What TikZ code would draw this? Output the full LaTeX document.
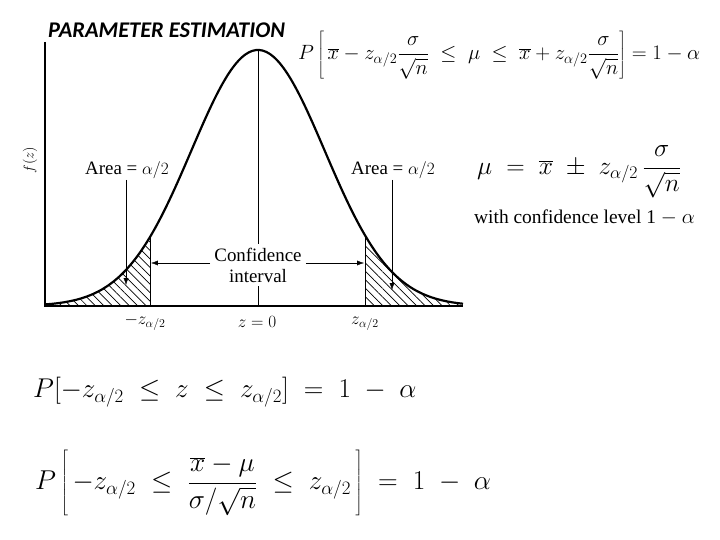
\documentclass[tikz,border=0pt]{standalone}
\usepackage{fontspec}
\setmainfont{Liberation Serif}
\newfontfamily\titlefont{Carlito}
\usetikzlibrary{arrows.meta,patterns.meta}

\begin{document}
\begin{tikzpicture}[x=1bp,y=-1bp,>={Latex[length=7pt,width=5pt]},
    declare function={fz(\t)=306-256*exp(-0.5*((\t-258)/66.7)^2);},
    lbl/.style={font=\fontsize{19}{21}\selectfont,inner sep=1pt},
    eqn/.style={font=\fontsize{20}{24}\selectfont,inner sep=0pt},
    hatch/.style={pattern={Lines[angle=-45,distance=6pt,line width=0.7pt]}}]
    \useasboundingbox (0,0) rectangle (720,540);

    \node[anchor=west,inner sep=0pt,
        font=\titlefont\bfseries\itshape\fontsize{22.5}{24}\selectfont]
        (title) at (48,30) {PARAMETER ESTIMATION};

    \fill[hatch] (45,306)
        -- plot[domain=45:150,samples=40] (\x,{fz(\x)})
        -- (150,306) -- cycle;
    \fill[hatch] (365,306)
        -- plot[domain=365:463,samples=40] (\x,{fz(\x)})
        -- (463,306) -- cycle;

    \draw[line width=0.8pt] (258,50) -- (258,306);
    \draw[line width=1pt] (150,{fz(150)}) -- (150,306);
    \draw[line width=1pt] (365,{fz(365)}) -- (365,306);
    \draw[line width=2.2pt]
        plot[domain=45:463,samples=120,smooth] (\x,{fz(\x)});
    \draw[line width=1.8pt] (45,42) -- (45,306) -- (463,306);

    \node[rotate=90,font=\fontsize{15}{17}\selectfont] (fz-label)
        at (30,160) {$f(z)$};

    \node[lbl] (area-left) at (127,170) {Area = $\alpha/2$};
    \node[lbl] (area-right) at (393,170) {Area = $\alpha/2$};
    \coordinate (area-left-tip) at (126,285);
    \coordinate (area-right-tip) at (392,290);
    \draw[->,thin] (area-left.south -| area-left-tip) -- (area-left-tip);
    \draw[->,thin] (area-right.south -| area-right-tip) -- (area-right-tip);

    \node[lbl,fill=white,align=center,inner sep=4pt] (ci-label)
        at (258,265) {Confidence\\interval};
    \coordinate (ci-left) at (151,263);
    \coordinate (ci-right) at (364,263);
    \draw[->,thin] (ci-label.west |- ci-left) -- (ci-left);
    \draw[->,thin] (ci-label.east |- ci-right) -- (ci-right);

    \node[lbl,font=\fontsize{17}{19}\selectfont] (z-minus) at (145,322) {$-z_{\alpha/2}$};
    \node[lbl,font=\fontsize{17}{19}\selectfont] (z-zero) at (257,322) {$z = 0$};
    \node[lbl,font=\fontsize{17}{19}\selectfont] (z-plus) at (365,324) {$z_{\alpha/2}$};

    \node[eqn,anchor=west] (prob-xbar) at (298,55)
        {$\displaystyle P\left[\,\overline{x}-z_{\alpha/2}\frac{\sigma}{\sqrt{n}}
        \;\le\;\mu\;\le\;\overline{x}+z_{\alpha/2}\frac{\sigma}{\sqrt{n}}\right]
        =1-\alpha$};
    \node[eqn,anchor=west,font=\fontsize{24}{28}\selectfont] (mu-eq) at (477,172)
        {\scalebox{1.03}{$\displaystyle \mu\;=\;\overline{x}\;\pm\;z_{\alpha/2}\,\frac{\sigma}{\sqrt{n}}$}};
    \node[lbl,anchor=west,font=\fontsize{19.5}{21}\selectfont] (conf-level) at (473,218)
        {with confidence level 1 $-$ $\alpha$};

    \node[eqn,anchor=west,font=\fontsize{24}{28}\selectfont] (prob-z) at (33,392)
        {\scalebox{1.095}{$P[-z_{\alpha/2}\;\le\;z\;\le\;z_{\alpha/2}]\;=\;1\;-\;\alpha$}};
    \node[eqn,anchor=west,font=\fontsize{24}{28}\selectfont] (prob-std) at (35,483)
        {\scalebox{1.1}{$\displaystyle P\left[\,-z_{\alpha/2}\;\le\;\frac{\overline{x}-\mu}{\sigma/\sqrt{n}}
        \;\le\;z_{\alpha/2}\,\right]\;=\;1\;-\;\alpha$}};
\end{tikzpicture}
\end{document}
